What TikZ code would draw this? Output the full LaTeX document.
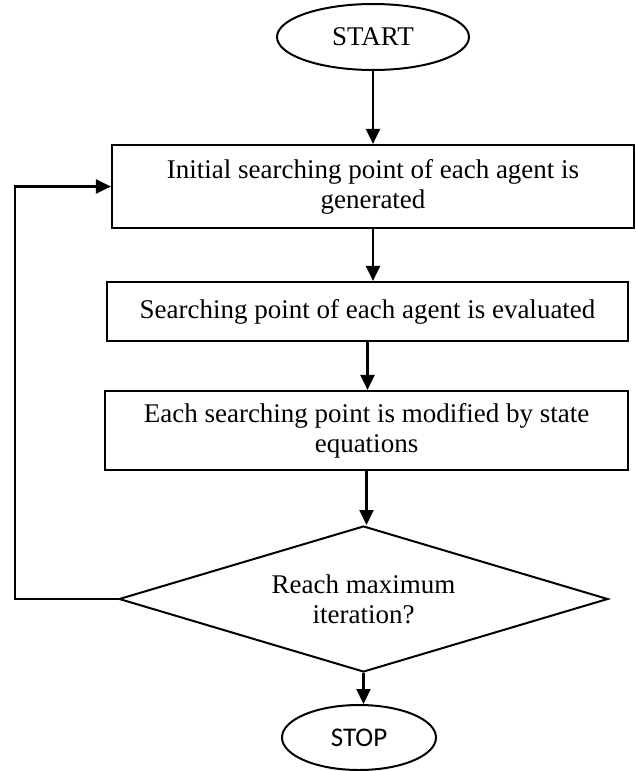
\documentclass[tikz,border=0pt]{standalone}
\usepackage{fontspec}
\setmainfont{Liberation Serif}
\newfontfamily\stopfont{Carlito}
\usetikzlibrary{shapes.geometric,arrows.meta}
\begin{document}
\begin{tikzpicture}[x=1pt,y=-1pt,
  every node/.style={font=\fontsize{27}{30}\selectfont, inner sep=0pt, align=center},
  proc/.style={draw, line width=2.2pt, rectangle},
  term/.style={draw, line width=2pt, ellipse},
  decis/.style={draw, line width=2pt, diamond, aspect=3.35},
  arr/.style={line width=2.2pt, -{Triangle[length=15pt,width=14pt]}}]
\useasboundingbox (0,0) rectangle (635,771);
\node[term, minimum width=192pt, minimum height=66pt] (start) at (373,37) {START};
\node[proc, minimum width=522pt, minimum height=83pt] (b1) at (373,186.5) {Initial searching point of each agent is\\generated};
\node[proc, minimum width=521pt, minimum height=59pt] (b2) at (367.5,311.5) {Searching point of each agent is evaluated};
\node[proc, minimum width=523pt, minimum height=79pt] (b3) at (366.5,430.5) {Each searching point is modified by state\\equations};
\node[decis, minimum width=489pt, minimum height=146pt] (dec) at (363.5,599) {Reach maximum\\iteration?};
\node[term, minimum width=154pt, minimum height=65pt, font=\stopfont\fontsize{27}{30}\selectfont] (stop) at (359,737.5) {STOP};
\coordinate (fbx) at (15,0);
\draw[arr] (start.south) -- (start.south |- b1.north);
\draw[arr] (b1.south) -- (b1.south |- b2.north);
\draw[arr] (b2.south) -- (b2.south |- b3.north);
\draw[arr] (b3.south) -- (b3.south |- dec.north);
\draw[arr] (dec.south) -- (dec.south |- stop.north);
\draw[arr, line join=miter] (dec.west) -- (dec.west -| fbx) -- (b1.west -| fbx) -- (b1.west);
\end{tikzpicture}
\end{document}
